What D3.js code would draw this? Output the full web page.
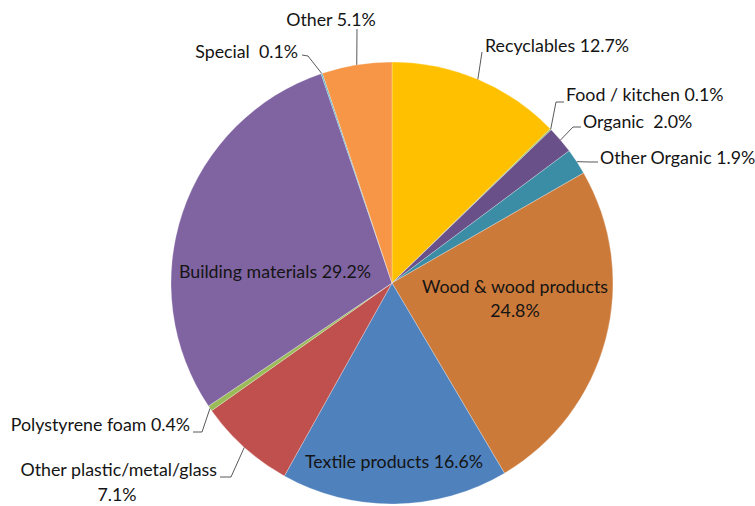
<!DOCTYPE html>
<html>
<head>
<meta charset="utf-8">
<script src="https://cdn.jsdelivr.net/npm/d3@7"></script>
<style>
  html, body { margin: 0; padding: 0; background: #fff; }
  svg text { font-family: Lato, "Open Sans", sans-serif; font-size: 17.8px; fill: #141414; white-space: pre; }
</style>
</head>
<body>
<svg id="chart" width="755" height="506"></svg>
<script>
// Waste composition, clockwise from 12 o'clock
const categories = [
  "Recyclables", "Food / kitchen", "Organic", "Other Organic",
  "Wood & wood products", "Textile products", "Other plastic/metal/glass",
  "Polystyrene foam", "Building materials", "Special", "Other"
];
const shares = [12.7, 0.1, 2.0, 1.9, 24.8, 16.6, 7.1, 0.4, 29.2, 0.1, 5.1];
const labelTexts = [
  ["Recyclables 12.7%"], ["Food / kitchen 0.1%"], ["Organic  2.0%"], ["Other Organic 1.9%"],
  ["Wood & wood products", "24.8%"], ["Textile products 16.6%"],
  ["Other plastic/metal/glass", "7.1%"], ["Polystyrene foam 0.4%"],
  ["Building materials 29.2%"], ["Special  0.1%"], ["Other 5.1%"]
];
const colors = [
  "#FFC000", "#9BBB59", "#6A5089", "#3B8CA5", "#CC7A3A", "#4F81BD",
  "#C0504D", "#9BBB59", "#8064A2", "#4BACC6", "#F79646"
];

// Label placement: text anchor point, alignment, and optional leader elbow / end
const labelLayout = [
  { x: 485, y: 46, anchor: "start", leader: [[482, 52], [482, 52]] },
  { x: 566, y: 95, anchor: "start", leader: [[556, 102], [564, 102]] },
  { x: 583, y: 122, anchor: "start", leader: [[573, 127], [581, 127]] },
  { x: 600, y: 158, anchor: "start", leader: [[590, 162], [598, 162]] },
  { x: 515, y: 287, anchor: "middle", lineGap: 24 },
  { x: 394, y: 462, anchor: "middle" },
  { x: 217, y: 470, anchor: "end", lineGap: 25, secondX: 117, leader: [[231, 477], [220, 477]] },
  { x: 190, y: 425, anchor: "end", leader: [[202, 432], [193, 432]] },
  { x: 275, y: 272, anchor: "middle" },
  { x: 298, y: 52, anchor: "end", leader: [[308, 56], [302, 55]] },
  { x: 331, y: 20, anchor: "middle", leader: [[357, 29], [357, 29]] }
];

const cx = 392, cy = 283, radius = 221;

const svg = d3.select("#chart");
const g = svg.append("g").attr("transform", `translate(${cx},${cy})`);

const data = categories.map((c, i) => ({ name: c, value: shares[i], i }));

const pie = d3.pie().value(d => d.value).sort(null)
  .startAngle(0).endAngle(2 * Math.PI);
const arcs = pie(data);

const arc = d3.arc().innerRadius(0).outerRadius(radius);

g.selectAll("path.slice")
  .data(arcs)
  .join("path")
  .attr("class", "slice")
  .attr("d", arc)
  .attr("fill", d => colors[d.data.i])
  .attr("stroke", "#ffffff")
  .attr("stroke-opacity", 0.45)
  .attr("stroke-width", 0.6);

// Leader lines from slice edge midpoint to label
const edgePoint = d => {
  const a = (d.startAngle + d.endAngle) / 2;
  return [cx + radius * Math.sin(a), cy - radius * Math.cos(a)];
};

const lineGen = d3.line();
arcs.forEach(d => {
  const lay = labelLayout[d.data.i];
  if (!lay.leader) return;
  const pts = [edgePoint(d), ...lay.leader];
  svg.append("path")
    .attr("d", lineGen(pts))
    .attr("fill", "none")
    .attr("stroke", "#595959")
    .attr("stroke-width", 1);
});

// Labels
arcs.forEach(d => {
  const i = d.data.i;
  const lay = labelLayout[i];
  const lines = labelTexts[i];
  lines.forEach((t, k) => {
    const isSecond = k > 0;
    svg.append("text")
      .attr("x", isSecond && lay.secondX !== undefined ? lay.secondX : lay.x)
      .attr("y", lay.y + k * (lay.lineGap || 0))
      .attr("dy", "0.35em")
      .attr("text-anchor", isSecond && lay.secondX !== undefined ? "middle" : lay.anchor)
      .text(t);
  });
});
</script>
</body>
</html>
